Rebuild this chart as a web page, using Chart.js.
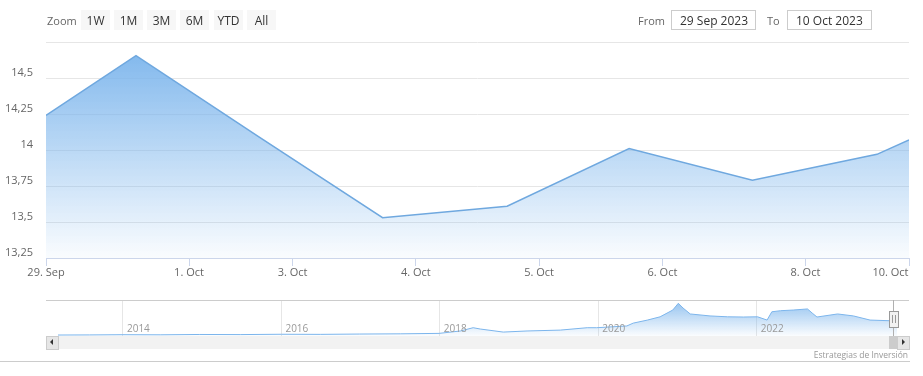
<!DOCTYPE html>
<html>
<head>
<meta charset="utf-8">
<script src="https://cdn.jsdelivr.net/npm/chart.js@4.4.1/dist/chart.umd.min.js"></script>
<style>
body{margin:0;background:#fff;font-family:'Open Sans',sans-serif;}
#wrap{position:relative;width:923px;height:376px;overflow:hidden;}
canvas{position:absolute;left:0;}
.lbl{position:absolute;top:13px;font-size:11px;color:#666;}
.btn{position:absolute;top:10px;width:29px;height:20px;background:#f7f7f7;color:#333;font-size:12px;line-height:21px;text-align:center;}
.box{position:absolute;top:10px;width:85px;height:20px;box-sizing:border-box;border:1px solid #ccc;font-size:12px;line-height:19px;color:#333;padding-left:8px;}
.ln{position:absolute;}
</style>
</head>
<body>
<div id="wrap">
<canvas id="main" width="923" height="290" style="top:0"></canvas>
<canvas id="nav" width="923" height="36" style="top:300px"></canvas>

<div class="lbl" style="left:47px">Zoom</div>
<div class="btn" style="left:81px">1W</div>
<div class="btn" style="left:114px">1M</div>
<div class="btn" style="left:147px">3M</div>
<div class="btn" style="left:180px">6M</div>
<div class="btn" style="left:214px">YTD</div>
<div class="btn" style="left:247px">All</div>
<div class="lbl" style="left:638px">From</div>
<div class="box" style="left:671px">29 Sep 2023</div>
<div class="lbl" style="left:767px">To</div>
<div class="box" style="left:787px">10 Oct 2023</div>

<!-- navigator outline, handle, scrollbar -->
<div class="ln" style="left:46px;top:300px;width:863px;height:1px;background:#cccccc"></div>
<div class="ln" style="left:893px;top:300px;width:1px;height:36px;background:#b0b0b0"></div>
<div class="ln" style="left:889px;top:311px;width:8px;height:15px;background:#f2f2f2;border:1px solid #999"></div>
<div class="ln" style="left:892px;top:315px;width:1px;height:8px;background:#999"></div>
<div class="ln" style="left:895px;top:315px;width:1px;height:8px;background:#999"></div>
<div class="ln" style="left:46px;top:336px;width:863px;height:13px;background:#f2f2f2"></div>
<div class="ln" style="left:46px;top:336px;width:11px;height:12px;background:#e6e6e6;border:1px solid #ccc"></div>
<div class="ln" style="left:50px;top:339px;width:0;height:0;border-top:3px solid transparent;border-bottom:3px solid transparent;border-right:3px solid #333"></div>
<div class="ln" style="left:889px;top:336px;width:8px;height:13px;background:#cccccc"></div>
<div class="ln" style="left:897px;top:336px;width:11px;height:12px;background:#e6e6e6;border:1px solid #ccc"></div>
<div class="ln" style="left:902px;top:339px;width:0;height:0;border-top:3px solid transparent;border-bottom:3px solid transparent;border-left:3px solid #333"></div>
<div class="ln" style="left:0;top:361px;width:910px;height:1px;background:#cccccc"></div>
<div class="ln" style="right:15px;top:349px;font-size:8.5px;color:#999">Estrategias de Inversión</div>
</div>

<script>
// main series (ordinal x, one unit per trading day)
const pointPos = [0, 0.73, 1.73, 2.73, 3.74, 4.73, 5.73, 6.74, 7];
const prices = [14.24, 14.655, 14.09, 13.53, 13.61, 14.01, 13.79, 13.97, 14.07];
const tickPos = [0, 1.16, 2, 3, 4, 5, 6.16, 7];
const tickLabels = ['29. Sep', '1. Oct', '3. Oct', '4. Oct', '5. Oct', '6. Oct', '8. Oct', '10. Oct'];
const yTicks = [13.25, 13.5, 13.75, 14, 14.25, 14.5, 14.75];
const yTickLabels = ['13,25', '13,5', '13,75', '14', '14,25', '14,5', ''];

// navigator series (whole history)
const navYears = [2013.18, 2013.58, 2014.0, 2014.47, 2014.97, 2015.48, 2016.0, 2016.49, 2016.99, 2017.5,
  2017.99, 2018.26, 2018.42, 2018.51, 2018.8, 2019.1, 2019.52, 2019.86, 2019.98, 2020.36,
  2020.44, 2020.62, 2020.78, 2020.94, 2021.01, 2021.07, 2021.16, 2021.41, 2021.63, 2021.83,
  2022.01, 2022.13, 2022.19, 2022.3, 2022.46, 2022.64, 2022.7, 2022.76, 2023.02, 2023.22,
  2023.43, 2023.68, 2023.77];
const navValues = [7.45, 7.5, 7.6, 7.55, 7.7, 7.65, 7.8, 7.75, 7.9, 8.0,
  8.2, 9.3, 10.8, 10.2, 8.8, 9.3, 9.7, 10.8, 10.8, 11.6,
  12.9, 14.3, 15.8, 18.9, 22.0, 19.8, 17.1, 16.2, 15.8, 15.7,
  15.8, 14.3, 18.1, 18.6, 18.9, 19.4, 17.5, 15.7, 17.1, 16.2,
  14.3, 14.0, 14.07];
const navTickYears = [2014, 2016, 2018, 2020, 2022];

Chart.defaults.font.family = "'Open Sans', sans-serif";
Chart.defaults.font.size = 11;
Chart.defaults.color = '#666';

function areaFill(ctx, a0, a1) {
  const area = ctx.chart.chartArea;
  if (!area) return 'rgba(124,181,236,0.5)';
  const g = ctx.chart.ctx.createLinearGradient(0, area.top, 0, area.bottom);
  g.addColorStop(0, 'rgba(124,181,236,' + a0 + ')');
  g.addColorStop(1, 'rgba(124,181,236,' + a1 + ')');
  return g;
}

// last x label sits inside the plot (right aligned), pad it with spaces
const measure = document.createElement('canvas').getContext('2d');
measure.font = "11px 'Open Sans', sans-serif";
function xLabel(i) {
  let t = tickLabels[i];
  if (i === tickLabels.length - 1) {
    const n = Math.round(measure.measureText(t).width / measure.measureText(' ').width);
    t = t + ' '.repeat(n);
  }
  return t;
}

new Chart(document.getElementById('main'), {
  type: 'line',
  data: {
    datasets: [{
      data: pointPos.map((x, i) => ({x: x, y: prices[i]})),
      borderColor: '#6fa8df',
      borderWidth: 1.5,
      backgroundColor: c => areaFill(c, 1, 0.04),
      fill: 'start',
      pointRadius: 0,
      tension: 0
    }]
  },
  options: {
    responsive: false,
    animation: false,
    devicePixelRatio: 1,
    layout: {padding: {left: 0, right: 14, top: 42, bottom: 0}},
    plugins: {legend: {display: false}, tooltip: {enabled: false}},
    scales: {
      x: {
        type: 'linear', min: 0, max: 7,
        afterBuildTicks: s => { s.ticks = tickPos.map(v => ({value: v})); },
        afterFit: s => { s.height = 32; s.paddingLeft = 0; s.paddingRight = 0; },
        ticks: {callback: (v, i) => xLabel(i), maxRotation: 0, autoSkip: false, padding: 0, color: '#666'},
        grid: {drawOnChartArea: false, drawTicks: true, tickLength: 8, color: '#ccd6eb'},
        border: {display: true, color: '#ccd6eb'}
      },
      y: {
        min: 13.25, max: 14.75,
        afterBuildTicks: s => { s.ticks = yTicks.map(v => ({value: v})); },
        afterFit: s => { s.width = 46; s.paddingTop = 0; s.paddingBottom = 0; },
        ticks: {callback: (v, i) => yTickLabels[i], padding: 13, labelOffset: -5, color: '#666'},
        grid: {color: '#e6e6e6', drawTicks: false},
        border: {display: false}
      }
    }
  }
});

const yearLabels = {
  id: 'yearLabels',
  afterDraw(chart) {
    const c = chart.ctx, sx = chart.scales.x;
    c.save();
    c.font = "10px 'Open Sans', sans-serif";
    c.fillStyle = '#999';
    c.textAlign = 'left';
    c.textBaseline = 'alphabetic';
    navTickYears.forEach(y => c.fillText(String(y), sx.getPixelForValue(y) + 4, 32));
    c.restore();
  }
};

new Chart(document.getElementById('nav'), {
  type: 'line',
  data: {
    datasets: [{
      data: navYears.map((x, i) => ({x: x, y: navValues[i]})),
      borderColor: '#7cb5ec',
      borderWidth: 1,
      backgroundColor: c => areaFill(c, 0.85, 0.03),
      fill: 'start',
      pointRadius: 0,
      tension: 0
    }]
  },
  options: {
    responsive: false,
    animation: false,
    devicePixelRatio: 1,
    layout: {padding: {left: 58, right: 26, top: 0, bottom: 0}},
    plugins: {legend: {display: false}, tooltip: {enabled: false}},
    scales: {
      x: {
        type: 'linear', min: 2013.18, max: 2023.77,
        afterBuildTicks: s => { s.ticks = navTickYears.map(v => ({value: v})); },
        afterFit: s => { s.height = 0; },
        ticks: {display: false},
        grid: {color: '#e6e6e6', drawTicks: false},
        border: {display: false}
      },
      y: {
        display: false, min: 7, max: 23.5
      }
    }
  },
  plugins: [yearLabels]
});
</script>
</body>
</html>
